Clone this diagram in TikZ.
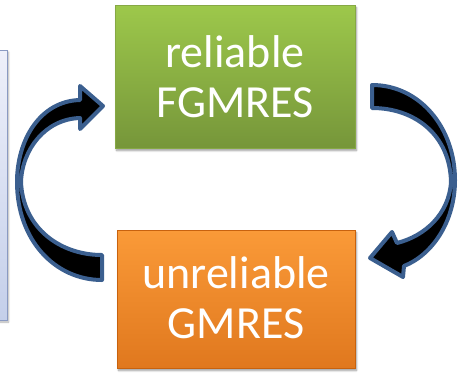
\documentclass[tikz,border=0pt]{standalone}
\usepackage{fontspec}
\setmainfont{Carlito}
\usetikzlibrary{shadows.blur}
\definecolor{greenTop}{HTML}{9DC84B}
\definecolor{greenBot}{HTML}{76963A}
\definecolor{greenEdge}{HTML}{86A845}
\definecolor{orangeTop}{HTML}{FA9A38}
\definecolor{orangeBot}{HTML}{E0781E}
\definecolor{orangeEdge}{HTML}{C8620E}
\definecolor{sideTop}{HTML}{EEF0FA}
\definecolor{sideBot}{HTML}{C4CFEA}
\definecolor{sideEdge}{HTML}{8A9AC2}
\definecolor{arrowEdge}{HTML}{3B5F8F}
\tikzset{
  boxstyle/.style={rectangle, text=white, align=center,
    font=\fontsize{46}{50}\selectfont, inner sep=0pt,
    blur shadow={shadow xshift=1.5pt, shadow yshift=-2.5pt, shadow blur steps=6, shadow opacity=40}},
  greenbox/.style={boxstyle, draw=greenEdge, line width=0.8pt, top color=greenTop, bottom color=greenBot,
    minimum width=240pt, minimum height=143pt},
  orangebox/.style={boxstyle, draw=orangeEdge, line width=0.8pt, top color=orangeTop, bottom color=orangeBot,
    minimum width=238pt, minimum height=138pt},
  sidebox/.style={rectangle, draw=sideEdge, line width=1pt, top color=sideTop, bottom color=sideBot,
    minimum width=16pt, minimum height=270pt,
    blur shadow={shadow xshift=1.5pt, shadow yshift=-2pt, shadow blur steps=5, shadow opacity=30}},
  blockarrow/.style={fill=black, draw=arrowEdge, line width=4pt, line join=round}
}
\begin{document}
\begin{tikzpicture}[x=1pt, y=-1pt]
\useasboundingbox (0,0) rectangle (462,375);
\node[sidebox] (side) at (-1,185) {};
\node[greenbox] (reliable) at (235,76.5) {reliable\\FGMRES};
\node[orangebox] (unreliable) at (236,299) {\raisebox{2pt}{unreliable}\\\raisebox{2pt}{GMRES}};
% left curved arrow (from unreliable up to reliable)
\coordinate (ltail) at (102,255);
\draw[blockarrow] (ltail) -- (102,280)
  .. controls (55,280) and (17,240) .. (17,182)
  .. controls (17,140) and (40,101) .. (80,100)
  -- (80,86) -- (103,106) -- (80,129) -- (80,118)
  .. controls (45,119) and (22,150) .. (21,182)
  .. controls (23,228) and (60,255) .. (ltail) -- cycle;
% right curved arrow (from reliable down to unreliable)
\coordinate (rtail) at (372,85);
\draw[blockarrow] (rtail)
  .. controls (420,85) and (455,128) .. (455,180)
  .. controls (455,222) and (432,255) .. (404,266)
  -- (403,277) -- (370,258) -- (392,232) -- (397,243)
  .. controls (425,236) and (449,214) .. (451,182)
  .. controls (450,135) and (415,108) .. (372,108) -- cycle;
\end{tikzpicture}
\end{document}
